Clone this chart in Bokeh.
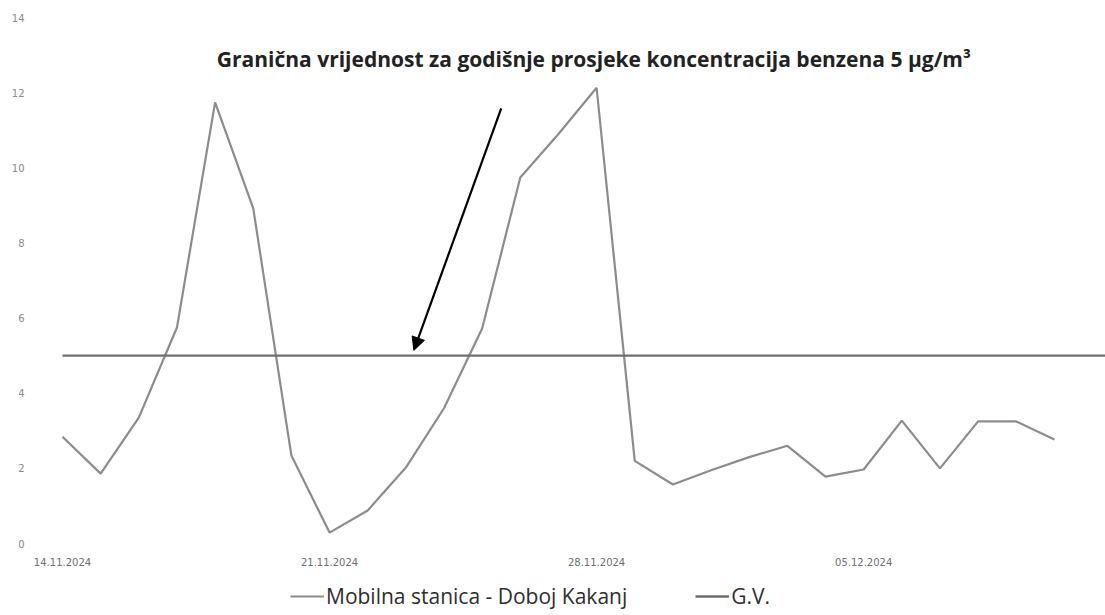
import pandas as pd
from bokeh.plotting import figure
from bokeh.models import (Range1d, FixedTicker, DatetimeTickFormatter, Label,
                          Arrow, NormalHead, Legend, LegendItem)
from bokeh.embed import file_html
from bokeh.resources import INLINE

# ---- data ----
start_date = "2024-11-14"
dates = pd.date_range(start_date, periods=27, freq="D")
benzene = [2.84, 1.86, 3.35, 5.75, 11.74, 8.92, 2.34, 0.29, 0.88, 2.02, 3.6, 5.72,
           9.74, 10.9, 12.13, 2.2, 1.57, 1.95, 2.3, 2.6, 1.78, 1.97, 3.27, 2.0,
           3.25, 3.25, 2.77]
gv_value = 5
y_ticks = [0, 2, 4, 6, 8, 10, 12, 14]
tick_dates = ["2024-11-14", "2024-11-21", "2024-11-28", "2024-12-05"]
series_names = ["Mobilna stanica - Doboj Kakanj", "G.V."]
title_text = "Granična vrijednost za godišnje prosjeke koncentracija benzena  5 µg/m³"

t0 = pd.Timestamp(start_date)
DAY = 86400000.0
def ms(ts):
    return pd.Timestamp(ts).value / 1e6

PX_PER_DAY = 38.15
x_first = ms(t0)
x_start = x_first - 32 / PX_PER_DAY * DAY          # room for the first date label
x_end = x_first + 1043 / PX_PER_DAY * DAY

p = figure(frame_width=1075, frame_height=595, x_axis_type="datetime",
           x_range=Range1d(x_start, x_end), y_range=Range1d(-1.8365, 14),
           output_backend="svg", toolbar_location=None, title=None,
           min_border_left=30, min_border_right=0, min_border_top=17,
           min_border_bottom=0)
p.outline_line_color = None
p.xgrid.visible = False
p.ygrid.visible = False
p.background_fill_color = "white"
p.border_fill_color = "white"

# axes
p.yaxis.ticker = FixedTicker(ticks=y_ticks)
p.yaxis.axis_line_color = None
p.yaxis.major_tick_line_color = None
p.yaxis.minor_tick_line_color = None
p.yaxis.major_tick_out = 0
p.yaxis.major_tick_in = 0
p.yaxis.minor_tick_out = 0
p.yaxis.major_label_text_color = "#8a8a8a"
p.yaxis.major_label_text_font = "DejaVu Sans"
p.yaxis.major_label_text_font_size = "10px"
p.yaxis.major_label_standoff = 6

p.xaxis.fixed_location = 0
p.xaxis.ticker = FixedTicker(ticks=[ms(d) for d in tick_dates])
p.xaxis.formatter = DatetimeTickFormatter(days="%d.%m.%Y", months="%d.%m.%Y",
                                          hours="%d.%m.%Y")
p.xaxis.axis_line_color = None
p.xaxis.major_tick_line_color = None
p.xaxis.minor_tick_line_color = None
p.xaxis.major_tick_out = 0
p.xaxis.major_tick_in = 0
p.xaxis.minor_tick_out = 0
p.xaxis.major_label_text_color = "#6f6f6f"
p.xaxis.major_label_text_font = "DejaVu Sans"
p.xaxis.major_label_text_font_size = "10px"
p.xaxis.major_label_standoff = 14

# series
r1 = p.line(dates, benzene, line_color="#8c8c8c", line_width=2.2)
r2 = p.line([x_first, x_end], [gv_value, gv_value], line_color="#6e6e6e", line_width=2.4)

# title text inside plot
p.add_layout(Label(x=x_first + 14.0 * DAY, y=12.9, text=title_text,
                   text_align="center", text_baseline="middle",
                   text_font="Open Sans", text_font_style="bold",
                   text_font_size="21px", text_color="#222222"))

# arrow
p.add_layout(Arrow(x_start=x_first + 11.5 * DAY, y_start=11.58,
                   x_end=x_first + 9.21 * DAY, y_end=5.14,
                   line_color="black", line_width=2.2,
                   end=NormalHead(size=13, fill_color="black", line_color="black")))

legend = Legend(items=[LegendItem(label=series_names[0], renderers=[r1]),
                       LegendItem(label=series_names[1], renderers=[r2])],
                orientation="horizontal", location=(260, 2),
                label_text_font="Open Sans", label_text_font_size="21px",
                label_text_color="#2e2e2e", glyph_width=34, glyph_height=20,
                label_standoff=2, spacing=68, border_line_color=None,
                background_fill_alpha=0, padding=0, margin=0)
p.add_layout(legend)

open("out.html", "w").write(file_html(p, INLINE))
